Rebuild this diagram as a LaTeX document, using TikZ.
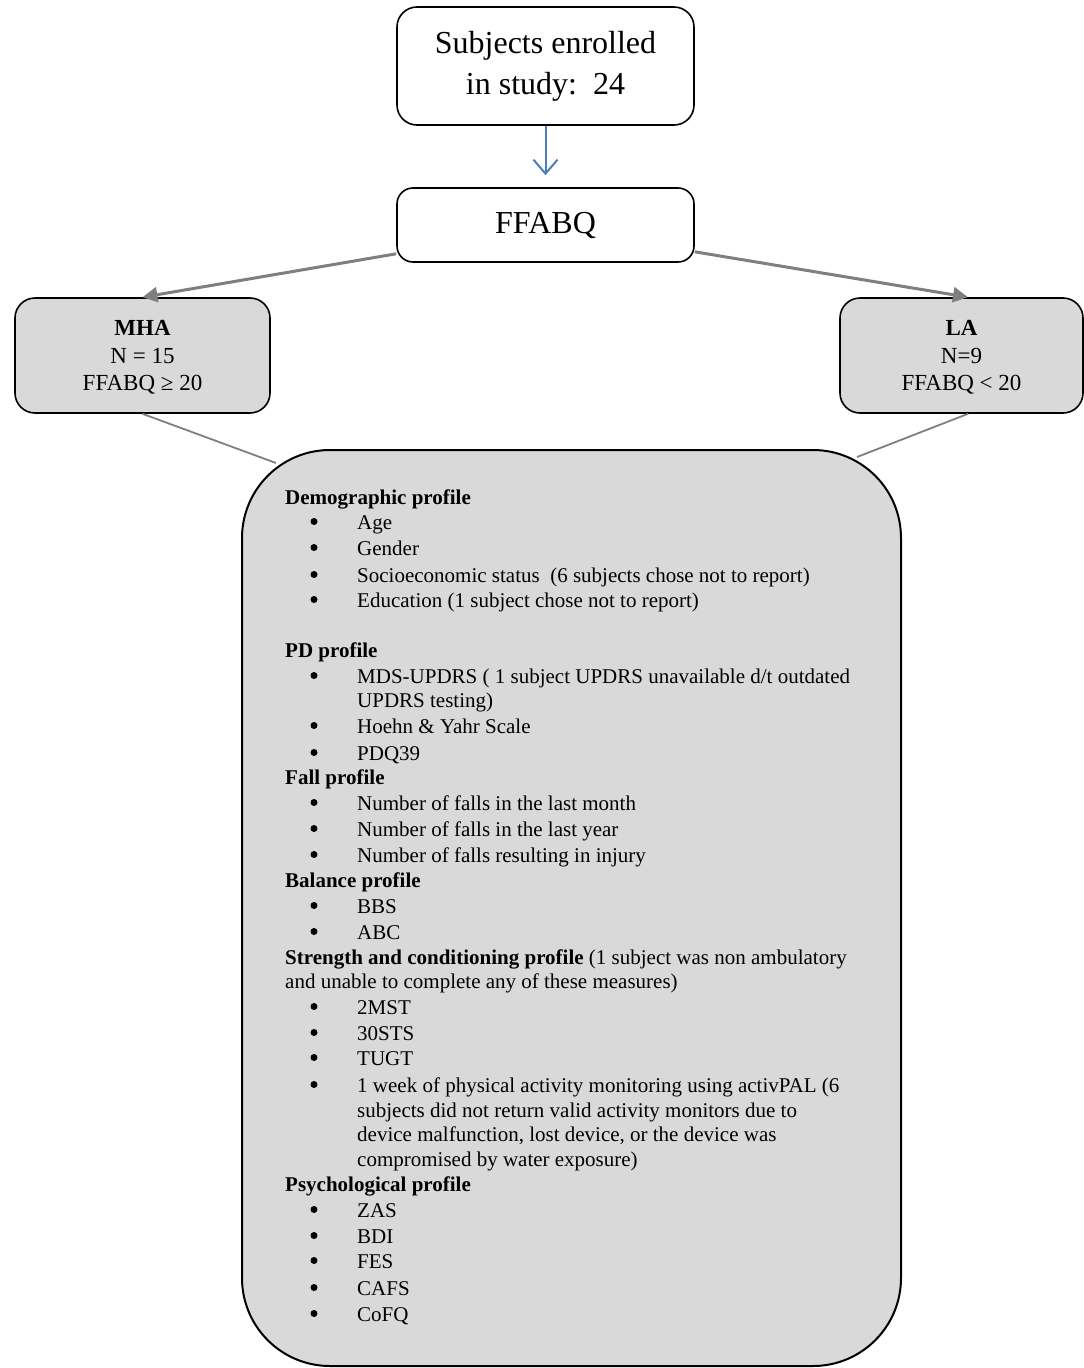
\documentclass[tikz,border=0pt]{standalone}
\usepackage{fontspec}
\setmainfont{Liberation Serif}
\usetikzlibrary{arrows.meta}
\definecolor{boxgray}{HTML}{D9D9D9}
\definecolor{arrgray}{HTML}{7F7F7F}
\definecolor{arrblue}{HTML}{4A7EBB}
\newcommand\myhead[3]{\node[hd] (h#1) at (285,#2) {#3};}
\newcommand\myitem[3]{\node[bul] (b#1) at (314,#2-7.5) {}; \node[itm] (i#1) at (357,#2) {#3};}
\newcommand\mycont[3]{\node[itm] (c#1) at (357,#2) {#3};}
\begin{document}
\begin{tikzpicture}[x=1pt,y=-1pt,
  whitebox/.style={draw=black, line width=1.6pt, fill=white, rounded corners=20pt, inner sep=0pt},
  graybox/.style={draw=black, line width=1.6pt, fill=boxgray, rounded corners=20pt, inner sep=0pt, align=center, text depth=0pt, font=\fontsize{23}{27.5}\selectfont},
  bigbox/.style={draw=black, line width=2pt, fill=boxgray, rounded corners=88pt, inner sep=0pt},
  itm/.style={anchor=base west, inner sep=0pt, font=\fontsize{21}{25.5}\selectfont},
  hd/.style={itm, font=\fontsize{21}{25.5}\selectfont\bfseries},
  bul/.style={circle, fill=black, inner sep=0pt, minimum size=7pt},
  thickarr/.style={draw=arrgray, line width=3pt, -{Triangle[length=15pt,width=15pt]}},
  thinline/.style={draw=arrgray, line width=1.8pt}]
\useasboundingbox (0,0) rectangle (1084,1368);

\node[whitebox, minimum width=297pt, minimum height=118pt, align=center, font=\fontsize{32}{41}\selectfont] (top) at (545.5,66) {Subjects enrolled\\in study:\ \ 24};
\node[whitebox, rounded corners=16pt, minimum width=297pt, minimum height=74pt, font=\fontsize{32}{41}\selectfont] (ffabq) at (545.5,225) {FFABQ};
\node[graybox, minimum width=255pt, minimum height=115pt] (mha) at (142.5,355.5) {\textbf{MHA}\\N = 15\\FFABQ ≥ 20};
\node[graybox, minimum width=243pt, minimum height=115pt] (la) at (961.5,355.5) {\textbf{LA}\\N=9\\FFABQ < 20};

\coordinate (c1) at (276,463);
\coordinate (c2) at (857,457);
\draw[thinline] (mha.south) -- (c1);
\draw[thinline] ([xshift=6.5pt]la.south) -- (c2);

\node[bigbox, minimum width=659pt, minimum height=916pt] (big) at (571.5,908) {};

\draw[arrblue, line width=2pt, -{Straight Barb[length=14pt,width=24pt,line width=2pt]}, shorten >=12pt] (top.south) -- (ffabq.north);
\draw[thickarr] ([yshift=9pt]ffabq.south west) -- (mha.north);
\draw[thickarr] ([yshift=11pt]ffabq.south east) -- ([xshift=6.5pt]la.north);

\myhead{1}{504}{Demographic profile}
\myitem{1}{529}{Age}
\myitem{2}{555}{Gender}
\myitem{3}{582}{Socioeconomic status\ \ (6 subjects chose not to report)}
\myitem{4}{607}{Education (1 subject chose not to report)}
\myhead{2}{657}{PD profile}
\myitem{5}{683}{MDS-UPDRS ( 1 subject UPDRS unavailable d/t outdated}
\mycont{1}{707}{UPDRS testing)}
\myitem{6}{733}{Hoehn \& Yahr Scale}
\myitem{7}{760}{PDQ39}
\myhead{3}{784}{Fall profile}
\myitem{8}{810}{Number of falls in the last month}
\myitem{9}{836}{Number of falls in the last year}
\myitem{10}{862}{Number of falls resulting in injury}
\myhead{4}{887}{Balance profile}
\myitem{11}{913}{BBS}
\myitem{12}{939}{ABC}
\node[itm] (h5) at (285,964) {\textbf{Strength and conditioning profile} (1 subject was non ambulatory};
\node[itm] (h5b) at (285,988) {and unable to complete any of these measures)};
\myitem{13}{1014}{2MST}
\myitem{14}{1040}{30STS}
\myitem{15}{1065}{TUGT}
\myitem{16}{1092}{1 week of physical activity monitoring using activPAL (6}
\mycont{2}{1117}{subjects did not return valid activity monitors due to}
\mycont{3}{1141}{device malfunction, lost device, or the device was}
\mycont{4}{1166}{compromised by water exposure)}
\myhead{6}{1191}{Psychological profile}
\myitem{17}{1217}{ZAS}
\myitem{18}{1243}{BDI}
\myitem{19}{1268}{FES}
\myitem{20}{1295}{CAFS}
\myitem{21}{1321}{CoFQ}
\end{tikzpicture}
\end{document}
